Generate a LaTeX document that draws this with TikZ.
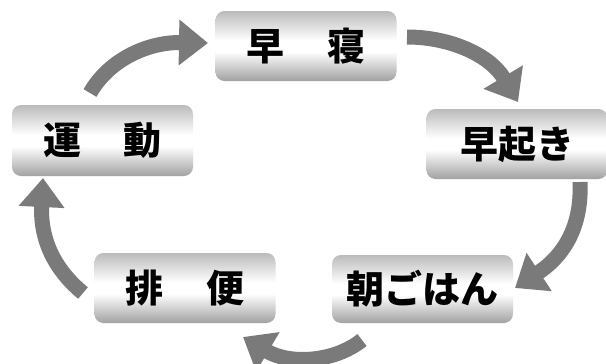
\documentclass[tikz,border=0pt]{standalone}
\usepackage{fontspec}
\newfontfamily\jp{Noto Sans CJK JP}
\usetikzlibrary{arrows.meta}
\definecolor{arrowgray}{RGB}{122,122,122}
\pgfdeclareverticalshading{metal}{100bp}{color(0bp)=(black!55); color(22bp)=(black!42); color(46bp)=(white); color(54bp)=(white); color(80bp)=(black!33); color(100bp)=(black!45)}
\tikzset{
  stepbox/.style={rounded corners=9pt, shading=metal, minimum width=181pt, minimum height=70pt, inner sep=0pt,
    font=\jp\bfseries\fontsize{38pt}{38pt}\selectfont},
  cyclearrow/.style={draw=arrowgray, line width=15pt, -{Triangle[length=29pt,width=44pt]}, arrowgray}
}
\begin{document}
\begin{tikzpicture}[x=1pt,y=-1pt]
\useasboundingbox (0,0) rectangle (606,364);
\fill[white] (0,0) rectangle (606,364);
\node[stepbox] (sleep) at (306,46) {早\hspace{43pt}寝};
\node[stepbox] (wake) at (517,144) {早起き};
\node[stepbox, minimum height=68pt] (breakfast) at (422.5,289) {朝ごはん};
\node[stepbox] (toilet) at (185,288) {排\hspace{43pt}便};
\node[stepbox, minimum height=71pt] (exercise) at (102.5,140.5) {運\hspace{43pt}動};
\coordinate (a1s) at (90,93);   \coordinate (a1e) at (208,43);
\coordinate (a2s) at (407,37);  \coordinate (a2e) at (518,102);
\coordinate (a3s) at (580,182); \coordinate (a3e) at (515,288);
\coordinate (a4s) at (362,340); \coordinate (a4e) at (243,337);
\coordinate (a5s) at (83,293);  \coordinate (a5e) at (43,178);
\draw[cyclearrow] (a1s) .. controls (110,58) and (150,42) .. (a1e);
\draw[cyclearrow] (a2s) .. controls (450,37) and (490,55) .. (a2e);
\draw[cyclearrow] (a3s) .. controls (582,225) and (565,255) .. (a3e);
\draw[cyclearrow] (a4s) .. controls (335,362) and (290,365) .. (a4e);
\draw[cyclearrow] (a5s) .. controls (55,270) and (40,240) .. (a5e);
\end{tikzpicture}
\end{document}
